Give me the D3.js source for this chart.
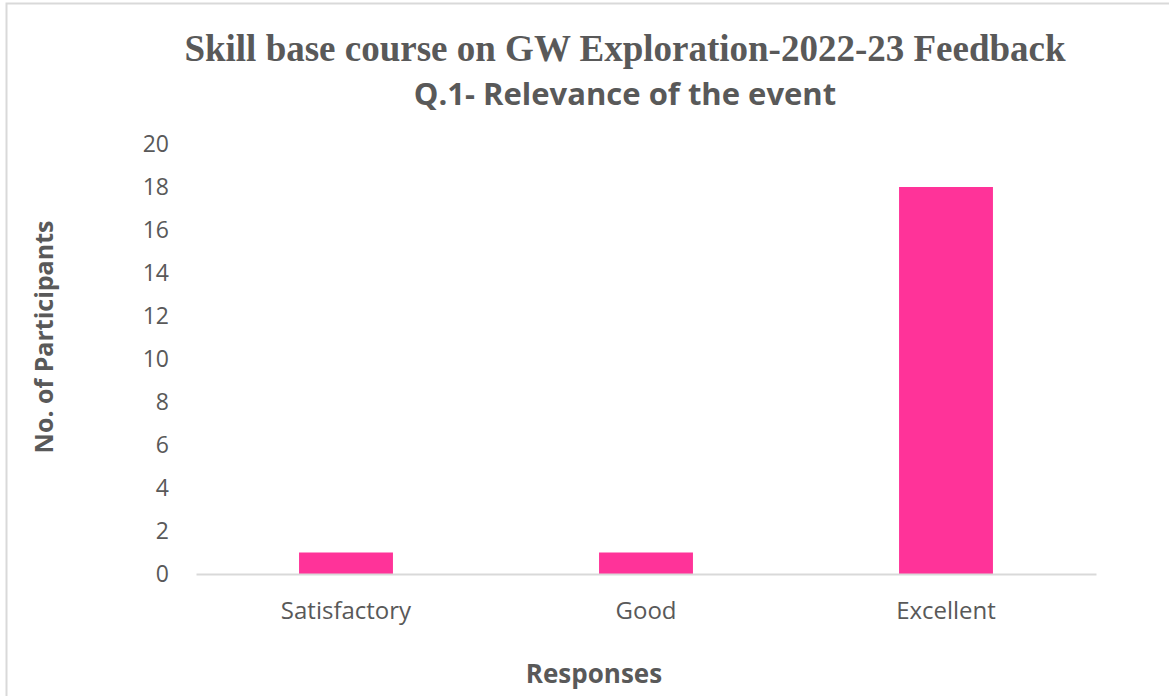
<!DOCTYPE html>
<html><head><meta charset="utf-8">
<script src="https://cdn.jsdelivr.net/npm/d3@7"></script>
<style>html,body{margin:0;padding:0;background:#fff;overflow:hidden;}</style>
</head><body>
<script>
const categories = ["Satisfactory", "Good", "Excellent"];
const values = [1, 1, 18];
const yTicks = [0, 2, 4, 6, 8, 10, 12, 14, 16, 18, 20];
const titleLine1 = "Skill base course on GW Exploration-2022-23 Feedback";
const titleLine2 = "Q.1- Relevance of the event";
const yTitle = "No. of Participants";
const xTitle = "Responses";

const W = 1169, H = 696;
const svg = d3.select("body").append("svg").attr("width", W).attr("height", H);

// outer border
svg.append("rect").attr("x", 6.5).attr("y", 3.5).attr("width", W + 10).attr("height", H + 10)
  .attr("fill", "#fff").attr("stroke", "#d9d9d9").attr("stroke-width", 2);

const plot = {left: 196, right: 1096, top: 144, bottom: 574};
const x = d3.scaleBand().domain(categories).range([plot.left, plot.right]).paddingInner(0.687).paddingOuter(0.3435);
const y = d3.scaleLinear().domain([0, 20]).range([plot.bottom, plot.top]);

const sans = "'Open Sans', 'Noto Sans', sans-serif";
const grey = "#595959";

// bars
svg.append("g").selectAll("rect").data(values).join("rect")
  .attr("x", (d, i) => x(categories[i]))
  .attr("y", d => y(d))
  .attr("width", x.bandwidth())
  .attr("height", d => y(0) - y(d))
  .attr("fill", "#ff3399");

// y axis
const yAxis = svg.append("g").attr("transform", `translate(${plot.left},0)`)
  .call(d3.axisLeft(y).tickValues(yTicks).tickSize(0).tickPadding(27));
yAxis.select(".domain").remove();
yAxis.selectAll("text").attr("font-family", sans).attr("font-size", 23).attr("fill", grey);

// x axis
const xAxis = svg.append("g").attr("transform", `translate(0,${plot.bottom})`)
  .call(d3.axisBottom(x).tickSize(0).tickPadding(28));
xAxis.select(".domain").attr("stroke", "#d9d9d9").attr("stroke-width", 2);
xAxis.selectAll("text").attr("font-family", sans).attr("font-size", 24).attr("fill", grey);

// titles
svg.append("text").attr("x", 625).attr("y", 61).attr("text-anchor", "middle")
  .attr("font-family", "'Liberation Serif', 'Times New Roman', serif").attr("font-weight", "bold")
  .attr("font-size", 37).attr("fill", grey).text(titleLine1);
svg.append("text").attr("x", 625).attr("y", 105).attr("text-anchor", "middle")
  .attr("font-family", sans).attr("font-weight", "bold")
  .attr("font-size", 31).attr("fill", grey).text(titleLine2);

svg.append("text").attr("transform", "translate(53,337) rotate(-90)").attr("text-anchor", "middle")
  .attr("font-family", sans).attr("font-weight", "bold")
  .attr("font-size", 25).attr("fill", grey).text(yTitle);
svg.append("text").attr("x", 594).attr("y", 683).attr("text-anchor", "middle")
  .attr("font-family", sans).attr("font-weight", "bold")
  .attr("font-size", 26).attr("fill", grey).text(xTitle);
</script>
</body></html>
